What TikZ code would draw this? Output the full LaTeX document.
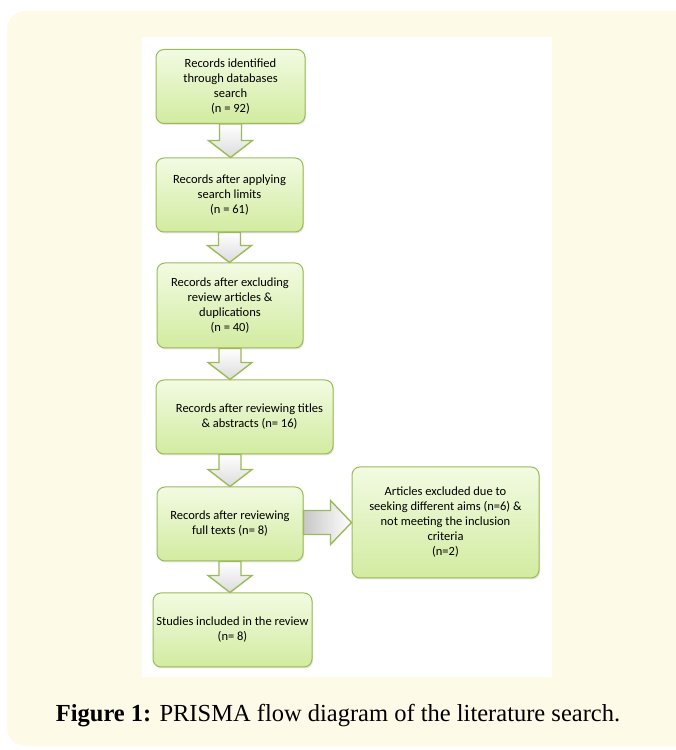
\documentclass[tikz,border=0pt]{standalone}
\usepackage{fontspec}
\setmainfont{Liberation Serif}
\newfontfamily\boxfont{Carlito}
\usetikzlibrary{calc,shadows}
\definecolor{cream}{HTML}{FEFAE8}
\definecolor{olive}{HTML}{9BBB59}
\definecolor{lightgreen}{HTML}{F2FBE2}
\definecolor{midgreen}{HTML}{D2EBA0}

% block arrows between boxes
\newcommand{\downblock}[2]{%
	\draw[blockarrow, top color=white, bottom color=black!14] let \p1=(#1), \p2=(#2) in
	(\x1-11pt,\y1) -- (\x1+11pt,\y1) -- (\x1+11pt,\y2+17pt) -- (\x1+22pt,\y2+17pt)
	-- (\x1,\y2) -- (\x1-22pt,\y2+17pt) -- (\x1-11pt,\y2+17pt) -- cycle;}
\newcommand{\rightblock}[2]{%
	\draw[blockarrow, left color=black!22, right color=white] let \p1=(#1), \p2=(#2) in
	(\x1,\y2+12pt) -- (\x2-21pt,\y2+12pt) -- (\x2-21pt,\y2+22pt) -- (\x2,\y2)
	-- (\x2-21pt,\y2-22pt) -- (\x2-21pt,\y2-12pt) -- (\x1,\y2-12pt) -- cycle;}

\begin{document}
\begin{tikzpicture}[x=1pt, y=1pt, line join=round]
	\tikzset{box/.style={rounded corners=8pt, draw=olive, line width=1pt, top color=lightgreen, bottom color=midgreen,
			drop shadow={opacity=0.2, shadow xshift=1pt, shadow yshift=-1.5pt},
			font=\boxfont\fontsize{12.5}{15}\selectfont, align=center, inner sep=2pt},
		blockarrow/.style={draw=olive, line width=1.4pt, line join=miter}}
	\clip (0,0) rectangle (676,750);
	\fill[cream, rounded corners=18pt] (7,4) rectangle (700,739);
	\fill[white] (142,73) rectangle (552,713);
	
	\node[box, minimum width=149, minimum height=74] (ident) at (230.5,663.5) {Records identified\\through databases\\search\\(n = 92)};
	\node[box, minimum width=147, minimum height=74] (limits) at (229.5,555) {Records after applying\\search limits\\(n = 61)};
	\node[box, minimum width=146, minimum height=85] (excl) at (230,444.5) {Records after excluding\\review articles \&\\duplications\\(n = 40)};
	\node[box, minimum width=177, minimum height=74] (titles) at (244.5,333) {\hspace*{10pt}Records after reviewing titles\\\hspace*{10pt}\& abstracts (n= 16)};
	\node[box, minimum width=146, minimum height=74] (full) at (230,226) {Records after reviewing\\full texts (n= 8)};
	\node[box, minimum width=187, minimum height=111] (out) at (445.5,227.5) {Articles excluded due to\\seeking different aims (n=6) \&\\not meeting the inclusion\\criteria\\(n=2)};
	\node[box, minimum width=159, minimum height=74] (incl) at (232.5,120) {Studies included in the review\\(n= 8)};
	
	\downblock{ident.south}{limits.north}
	\downblock{limits.south}{excl.north}
	\downblock{excl.south}{titles.north}
	\downblock{titles.south -| full.north}{full.north}
	\downblock{full.south}{incl.north}
	\rightblock{full.east}{out.west}
	
	\node[font=\fontsize{24.5}{28}\selectfont] (cap) at (338,34) {\textbf{Figure 1:} PRISMA flow diagram of the literature search.};
\end{tikzpicture}
\end{document}
